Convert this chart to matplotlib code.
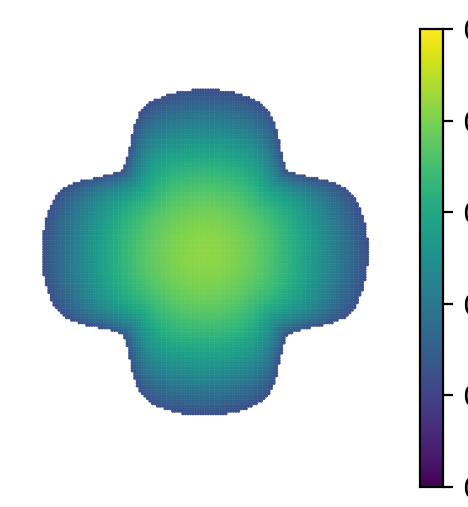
import numpy as np
import matplotlib
matplotlib.use("Agg")
import matplotlib.pyplot as plt

# boundary radius of the four-lobed domain
# (angle in degrees from a lobe axis, radius relative to lobe tip)
bnd_angle = [0, 5, 10, 15, 20, 25, 30, 35, 40, 45]
bnd_radius = [1.0, 1.0, 0.997, 0.99, 0.98, 0.945, 0.877, 0.80, 0.745, 0.712]

# field values: centre and boundary
u_center = 0.415
u_edge = 0.12
profile_exp = 1.9
r_mid = 0.95      # radius used near the centre (round contours there)
blend_exp = 3.0

cbar_ticks = [0.0, 0.1, 0.2, 0.3, 0.4, 0.5]
vmin, vmax = 0.0, 0.5

W, H, DPI = 468, 507, 200
fig = plt.figure(figsize=(W / DPI, H / DPI), dpi=DPI)

# main axes in pixel-like layout, one unit = lobe tip radius (163 px)
cx, cy, R = 205.0, 507 - 252.5, 163.0
ax = fig.add_axes([0, 0, 410 / W, 1])
ax.set_xlim((0 - cx) / R, (410 - cx) / R)
ax.set_ylim((0 - cy) / R, (H - cy) / R)
ax.axis("off")

# sample points on a fine grid and keep those inside the boundary
h = 0.0155
g = np.arange(-1.05, 1.05 + h, h)
X, Y = np.meshgrid(g, g)
r = np.hypot(X, Y)
th = np.degrees(np.arctan2(Y, X)) % 90.0
th = np.where(th > 45, 90 - th, th)
Rb = np.interp(th, bnd_angle, bnd_radius)
mask = r <= Rb

# effective radius: round near the centre, follows the boundary outside
t = np.clip(r / Rb, 0, 1)
R_eff = r_mid + (Rb - r_mid) * t ** blend_exp
s = np.clip(r / R_eff, 0, 1)
u = u_edge + (u_center - u_edge) * (1 - s ** profile_exp)

sc = ax.scatter(X[mask], Y[mask], c=u[mask], cmap="viridis",
                vmin=vmin, vmax=vmax, s=1.6, linewidths=0)

cax = fig.add_axes([420 / W, (H - 487) / H, 23 / W, 458 / H])
cb = fig.colorbar(sc, cax=cax, ticks=cbar_ticks)

fig.savefig("out.png", dpi=DPI)
